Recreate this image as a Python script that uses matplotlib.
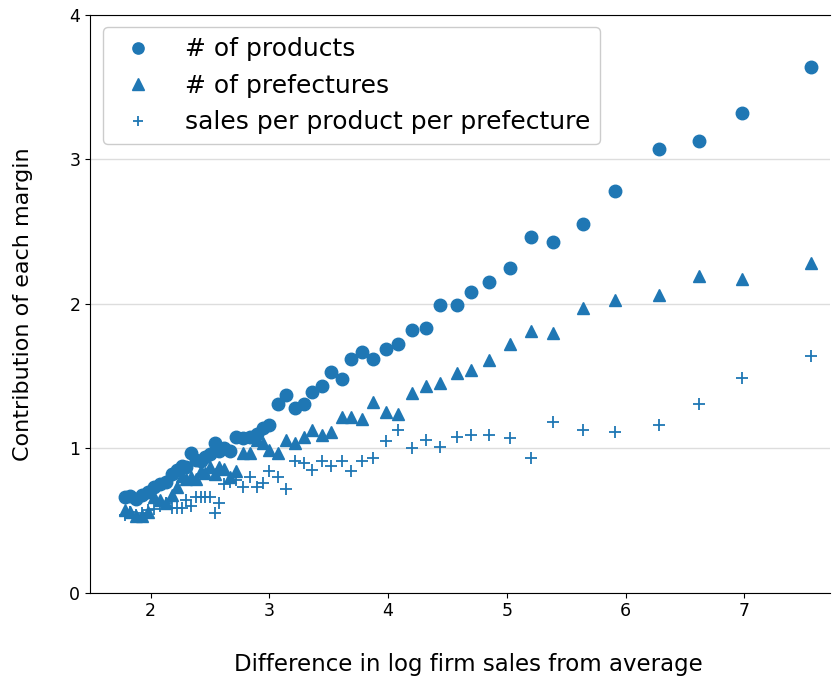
import matplotlib
matplotlib.use("Agg")
import matplotlib.pyplot as plt

# binned log firm sales (difference from average)
sales_diff = [1.78, 1.83, 1.88, 1.93, 1.98, 2.03, 2.08, 2.13,
              2.18, 2.22, 2.26, 2.30, 2.34, 2.38, 2.42, 2.46,
              2.50, 2.54, 2.58, 2.62, 2.67, 2.72, 2.78,
              2.84, 2.90, 2.95, 3.00,
              3.07, 3.14, 3.22, 3.29, 3.36, 3.44, 3.52, 3.61,
              3.69, 3.78, 3.87, 3.98, 4.08,
              4.20, 4.32, 4.44, 4.58, 4.70, 4.85, 5.03,
              5.20, 5.39, 5.64, 5.91, 6.28, 6.62, 6.98, 7.56]

n_products = [0.66, 0.67, 0.65, 0.68, 0.70, 0.73, 0.75, 0.77,
              0.82, 0.85, 0.88, 0.87, 0.97, 0.92, 0.91, 0.94,
              0.96, 1.04, 0.98, 1.00, 0.98, 1.08, 1.07,
              1.08, 1.10, 1.14, 1.16,
              1.31, 1.37, 1.28, 1.31, 1.39, 1.43, 1.53, 1.48,
              1.62, 1.67, 1.62, 1.69, 1.72,
              1.82, 1.83, 1.99, 1.99, 2.08, 2.15, 2.25,
              2.46, 2.43, 2.55, 2.78, 3.07, 3.13, 3.32, 3.64]

n_prefectures = [0.57, 0.56, 0.53, 0.53, 0.56, 0.66, 0.64, 0.62,
                 0.68, 0.73, 0.81, 0.79, 0.80, 0.79, 0.84, 0.83,
                 0.87, 0.82, 0.87, 0.86, 0.80, 0.84, 0.97,
                 0.97, 1.06, 1.04, 0.99,
                 0.97, 1.06, 1.04, 1.08, 1.13, 1.09, 1.11, 1.22,
                 1.22, 1.20, 1.32, 1.25, 1.24,
                 1.38, 1.43, 1.45, 1.52, 1.54, 1.61, 1.72,
                 1.81, 1.80, 1.97, 2.03, 2.06, 2.19, 2.17, 2.28]

sales_per_pp = [0.54, 0.56, 0.54, 0.55, 0.57, 0.58, 0.60, 0.62,
                0.59, 0.59, 0.59, 0.64, 0.60, 0.66, 0.66, 0.66,
                0.66, 0.55, 0.62, 0.75, 0.77, 0.78, 0.73,
                0.80, 0.73, 0.76, 0.84,
                0.80, 0.72, 0.91, 0.90, 0.85, 0.91, 0.88, 0.91,
                0.84, 0.91, 0.93, 1.05, 1.13,
                1.00, 1.06, 1.01, 1.08, 1.09, 1.09, 1.07,
                0.93, 1.18, 1.13, 1.11, 1.16, 1.31, 1.49, 1.64]

COLOR = "#1f77b4"

fig = plt.figure(figsize=(8.34, 6.79), dpi=100)
ax = fig.add_axes([0.108, 0.127, 0.887, 0.851])

ax.plot(sales_diff, n_products, linestyle="none", marker="o", markersize=9,
        color=COLOR, label="# of products")
ax.plot(sales_diff, n_prefectures, linestyle="none", marker="^", markersize=9,
        color=COLOR, label="# of prefectures")
ax.plot(sales_diff, sales_per_pp, linestyle="none", marker="+", markersize=8.5,
        markeredgewidth=1.3, color=COLOR, label="sales per product per prefecture")

ax.set_xlim(1.49, 7.72)
ax.set_ylim(0, 4)
ax.set_xticks([2, 3, 4, 5, 6, 7])
ax.set_yticks([0, 1, 2, 3, 4])
ax.tick_params(labelsize=12.5)

ax.yaxis.grid(True, color="#dddddd", linewidth=1)
ax.set_axisbelow(True)
ax.spines["right"].set_visible(False)

ax.set_xlabel("Difference in log firm sales from average", fontsize=16.5)
ax.xaxis.set_label_coords(0.511, -0.104)
ax.set_ylabel("Contribution of each margin", fontsize=16, labelpad=26)

ax.legend(loc="upper left", fontsize=18, handletextpad=0.9, markerscale=0.9,
          borderaxespad=0.5, framealpha=1)

fig.savefig("out.png", dpi=100)
